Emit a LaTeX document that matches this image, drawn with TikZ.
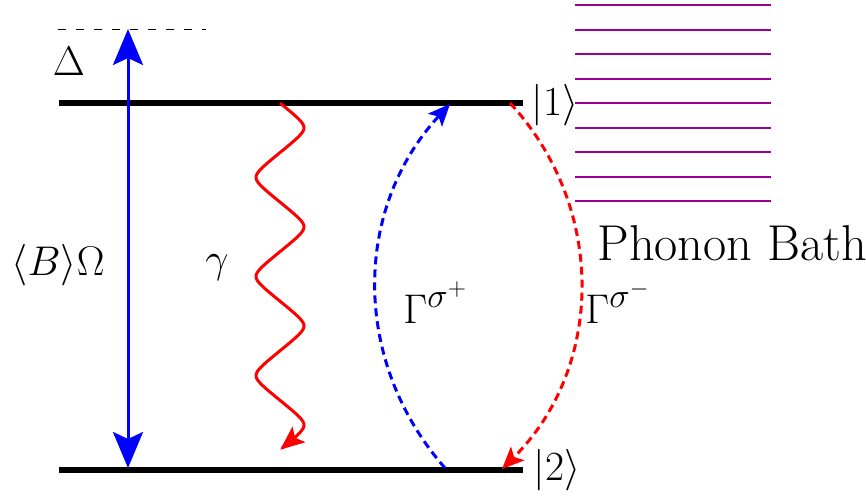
\documentclass[tikz,border=0pt]{standalone}
\usepackage{amsmath}
\usetikzlibrary{arrows.meta}
\definecolor{bath}{HTML}{960096}
\DeclareMathSizes{20}{20}{17}{12}

\begin{document}
\begin{tikzpicture}[x=0.5pt,y=-0.5pt,
    lbl/.style={inner sep=0pt,font=\fontsize{20}{24}\selectfont},
    level/.style={line width=3pt},
    rate/.style={line width=1.5pt,dash pattern=on 4pt off 2.5pt,-{Stealth[length=11pt,width=9.5pt,inset=2.5pt]}}]
  \useasboundingbox (0,0) rectangle (866,499);
  % levels
  \coordinate (l1a) at (59,103); \coordinate (l1b) at (523,103);
  \coordinate (l2a) at (59,470); \coordinate (l2b) at (523,470);
  \draw[level] (l1a)--(l1b);
  \draw[level] (l2a)--(l2b);
  \node[lbl] (k1) at (555,105){$|1\rangle$};
  \node[lbl] (k2) at (557,470){$|2\rangle$};
  % detuning
  \coordinate (d0) at (58,29); \coordinate (d1) at (206,29);
  \draw[dash pattern=on 4pt off 5pt] (d0)--(d1);
  \node[lbl,anchor=base] (delta) at (69,75){$\Delta$};
  % drive
  \coordinate (p1) at (128,29); \coordinate (p2) at (128,468);
  \draw[blue,line width=1.5pt,{Stealth[length=18pt,width=15pt,inset=3.5pt]}-{Stealth[length=18pt,width=15pt,inset=3.5pt]}] (p1)--(p2);
  \node[lbl,anchor=base] (om) at (58,275){$\langle B\rangle\Omega$};
  % spontaneous emission
  \coordinate (g1) at (280,103);
  \draw[red,line width=1.5pt,-{Stealth[length=12pt,width=10pt,inset=2.5pt]},shift={(g1)}]
    plot[domain=0:3.5,samples=200,smooth] ({24*asin(0.9*sin(\x*360))/asin(0.9)},{99.1*\x});
  \node[lbl,anchor=base] (ga) at (217,272){$\gamma$};
  % phonon rates
  \coordinate (u1) at (445,468); \coordinate (u2) at (450,104);
  \draw[rate,blue] (u1) to[bend left=42] (u2);
  \coordinate (v1) at (510,103); \coordinate (v2) at (502,469);
  \draw[rate,red] (v1) to[bend left=44] (v2);
  \node[lbl,anchor=base west] (gp) at (403,323){$\Gamma^{\sigma^+}$};
  \node[lbl,anchor=base west] (gm) at (585,323){$\Gamma^{\sigma^-}$};
  % bath
  \foreach \i in {0,...,8}{\draw[bath,line width=1pt] (575,{5+24.5*\i})--(771,{5+24.5*\i});}
  \node[inner sep=0pt,anchor=base west,font=\fontsize{25.2}{30}\selectfont] (pb) at (597,260){Phonon Bath};
\end{tikzpicture}
\end{document}
